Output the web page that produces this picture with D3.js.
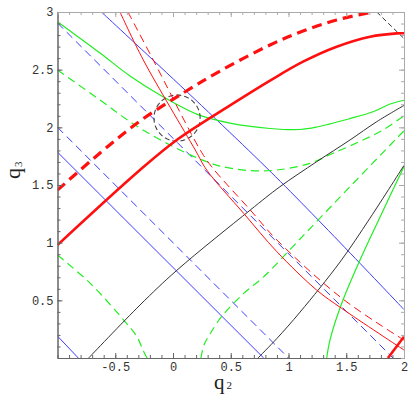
<!DOCTYPE html>
<html>
<head>
<meta charset="utf-8">
<script src="https://cdn.jsdelivr.net/npm/d3@7"></script>
<style>
  body { margin: 0; background: #fff; }
  .tick text { font-family: "Liberation Mono", "DejaVu Sans Mono", monospace; font-size: 12px; fill: #333; }
</style>
</head>
<body>
<svg id="chart"></svg>
<script>
// curves, as [q2, q3] pairs
const blueSolidA = [[-0.62, 3], [0.85, 1.61], [2, 0.42]];
const blueSolidB = [[-1, 1.785], [0.785, 0]];
const blueSolidC = [[-1, 0.19], [-0.82, 0]];
const blueDashA = [[-1, 2.905], [1.905, 0]];
const blueDashB = [[-1, 2.0], [1.0, 0]];

const blackA = [[-0.73, 0], [-0.286, 0.459], [0.035, 0.762], [0.669, 1.283], [0.926, 1.485],
  [1.244, 1.702], [1.532, 1.89], [1.764, 2.049], [2, 2.19]];
const blackB = [[0.736, 0], [0.9, 0.17], [1.1, 0.398], [1.446, 0.832], [1.706, 1.213], [2, 1.67]];
const blackDashTop = [[1.764, 3], [2, 2.77]];
const circleCenter = [0.035, 2.08];
const circleRadius = 0.2;

const redThick = [[-1, 0.98], [-0.286, 1.63], [0.032, 1.89], [0.494, 2.19], [0.84, 2.405],
  [1.126, 2.569], [1.417, 2.699], [1.706, 2.786], [1.937, 2.815], [2, 2.816]];
const redThickLow = [[1.861, 0], [2, 0.185]];
const redThickDash = [[-1, 1.456], [-0.632, 1.777], [-0.286, 2.055], [0.087, 2.297], [0.407, 2.488],
  [0.84, 2.714], [1.126, 2.835], [1.417, 2.931], [1.732, 3]];
const redThin = [[-0.459, 3], [-0.257, 2.584], [0.193, 1.803], [0.292, 1.63], [0.612, 1.254],
  [0.9, 0.921], [1.244, 0.589], [1.461, 0.43], [2, 0.069]];
const redThinDash = [[-0.39, 3], [-0.171, 2.584], [0.236, 1.803], [0.335, 1.658], [0.669, 1.283],
  [0.9, 1.023], [1.461, 0.519], [2, 0.155]];

const greenSolidTop = [[-1, 2.916], [-0.632, 2.644], [-0.372, 2.445], [-0.113, 2.28], [0.205, 2.115],
  [0.494, 2.037], [0.84, 1.99], [1.1, 1.981], [1.247, 2.003], [1.532, 2.076], [1.732, 2.135],
  [1.879, 2.202], [2, 2.235]];
const greenSolidSteep = [[1.331, 0], [1.359, 0.155], [1.461, 0.474], [1.619, 0.849], [1.8, 1.238], [2, 1.66]];
const greenDashTop = [[-1, 2.497], [-0.632, 2.237], [-0.329, 2.02], [-0.009, 1.838], [0.234, 1.725],
  [0.407, 1.664], [0.667, 1.625], [0.9, 1.63], [1.186, 1.688], [1.385, 1.775], [1.645, 1.89],
  [1.818, 1.977], [1.948, 2.063], [2, 2.1]];
const greenDashMid = [[0.242, 0], [0.268, 0.112], [0.32, 0.207], [0.424, 0.363], [0.612, 0.56],
  [0.785, 0.704], [1.1, 1.032], [1.532, 1.485], [2, 1.97]];
const greenDashLow = [[-1, 0.893], [-0.716, 0.647], [-0.427, 0.329], [-0.312, 0.184], [-0.26, 0.069], [-0.225, 0]];

const xLabels = [-0.5, 0, 0.5, 1, 1.5, 2];
const yLabels = [0.5, 1, 1.5, 2, 2.5, 3];

const width = 409, height = 396;
const mLeft = 57.5, mRight = 404, mTop = 12, mBottom = 358;

const svg = d3.select("#chart").attr("width", width).attr("height", height);

const x = d3.scaleLinear().domain([-1, 2]).range([mLeft, mRight]);
const y = d3.scaleLinear().domain([0, 3]).range([mBottom, mTop]);

svg.append("clipPath").attr("id", "plot")
  .append("rect").attr("x", mLeft).attr("y", mTop)
  .attr("width", mRight - mLeft).attr("height", mBottom - mTop);

const g = svg.append("g").attr("clip-path", "url(#plot)");

const line = d3.line().x(d => x(d[0])).y(d => y(d[1])).curve(d3.curveCatmullRom);

const blue = "#3c3cff", green = "#22ee22", red = "#ff1010", black = "#333";

function draw(pts, color, w, dash) {
  g.append("path").datum(pts)
    .attr("d", line)
    .attr("fill", "none")
    .attr("stroke", color)
    .attr("stroke-width", w)
    .attr("stroke-dasharray", dash || null);
}

draw(blueSolidA, blue, 1);
draw(blueSolidB, blue, 1);
draw(blueSolidC, blue, 1);
draw(blueDashA, blue, 1, "8,5");
draw(blueDashB, blue, 1, "8,5");

draw(greenSolidTop, green, 1.2);
draw(greenSolidSteep, green, 1.2);
draw(greenDashTop, green, 1.2, "8,5");
draw(greenDashMid, green, 1.2, "8,5");
draw(greenDashLow, green, 1.2, "8,5");

draw(blackA, black, 1);
draw(blackB, black, 1);
draw(blackDashTop, black, 1, "5,3");

// dashed circle, drawn as a closed path through the scales
const circlePts = d3.range(0, 361, 5).map(a => [
  circleCenter[0] + circleRadius * Math.cos(a * Math.PI / 180),
  circleCenter[1] + circleRadius * Math.sin(a * Math.PI / 180)
]);
g.append("path").datum(circlePts)
  .attr("d", d3.line().x(d => x(d[0])).y(d => y(d[1])))
  .attr("fill", "none").attr("stroke", "#444").attr("stroke-width", 1.1)
  .attr("stroke-dasharray", "5,3");

draw(redThin, red, 1);
draw(redThinDash, red, 1, "8,5");
draw(redThick, red, 2.6);
draw(redThickLow, red, 2.6);
draw(redThickDash, red, 3.2, "10,6");

// frame with Mathematica style ticks
const minor = d3.range(-10, 21).map(d => d / 10);
const minorY = d3.range(0, 31).map(d => d / 10);

function frame(axis, tx, ty, color, labels) {
  const a = svg.append("g").attr("transform", `translate(${tx},${ty})`).call(axis);
  a.select(".domain").attr("stroke", color);
  a.selectAll(".tick line").attr("stroke", color);
  if (!labels) a.selectAll(".tick text").remove();
  return a;
}

frame(d3.axisBottom(x).tickValues(minor).tickSize(-3).tickSizeOuter(0).tickFormat(""), 0, mBottom, "#666");
frame(d3.axisBottom(x).tickValues(xLabels).tickSize(-5).tickSizeOuter(0).tickPadding(4).tickFormat(d => String(d)), 0, mBottom, "#666", true);
frame(d3.axisLeft(y).tickValues(minorY).tickSize(-3).tickSizeOuter(0).tickFormat(""), mLeft, 0, "#666");
frame(d3.axisLeft(y).tickValues(yLabels).tickSize(-5).tickSizeOuter(0).tickPadding(4).tickFormat(d => String(d)), mLeft, 0, "#666", true);
frame(d3.axisTop(x).tickValues(minor).tickSize(-3).tickSizeOuter(0).tickFormat(""), 0, mTop, "#aaa");
frame(d3.axisTop(x).tickValues(xLabels).tickSize(-5).tickSizeOuter(0).tickFormat(""), 0, mTop, "#aaa");
frame(d3.axisRight(y).tickValues(minorY).tickSize(-3).tickSizeOuter(0).tickFormat(""), mRight, 0, "#aaa");
frame(d3.axisRight(y).tickValues(yLabels).tickSize(-5).tickSizeOuter(0).tickFormat(""), mRight, 0, "#aaa");

// axis titles
const xt = svg.append("text").attr("x", 214).attr("y", 389)
  .attr("font-family", "Liberation Serif, serif").attr("font-size", 21).attr("fill", "#222");
xt.append("tspan").text("q");
xt.append("tspan").attr("font-size", 11).attr("dx", 2).text("2");

const yt = svg.append("text").attr("transform", "translate(20,179) rotate(-90)")
  .attr("font-family", "Liberation Serif, serif").attr("font-size", 22).attr("fill", "#222");
yt.append("tspan").text("q");
yt.append("tspan").attr("font-size", 11).attr("dx", 1).attr("dy", 2).text("3");
</script>
</body>
</html>
